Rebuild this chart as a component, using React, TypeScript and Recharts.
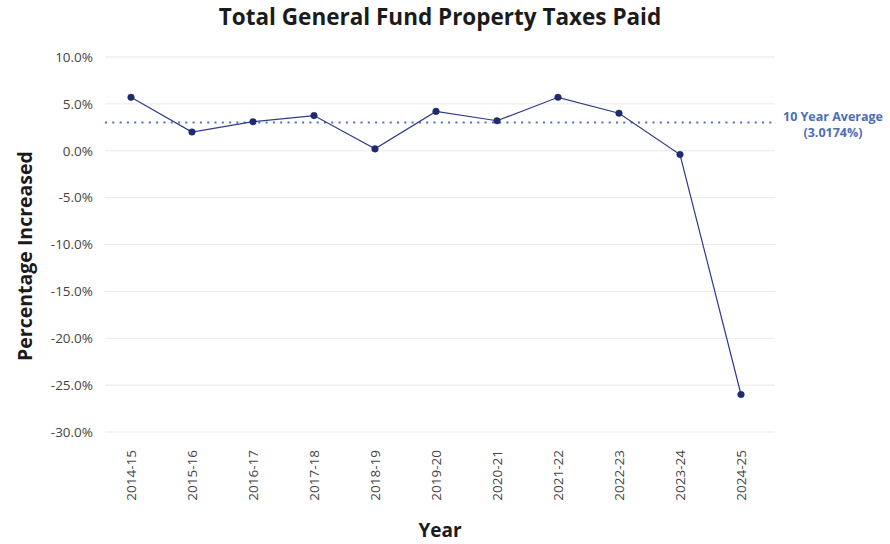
import { LineChart, Line, XAxis, YAxis, CartesianGrid, ReferenceLine, Label } from 'recharts';

const years = ['2014-15', '2015-16', '2016-17', '2017-18', '2018-19', '2019-20', '2020-21', '2021-22', '2022-23', '2023-24', '2024-25'];
const pctIncrease = [5.7, 2.0, 3.1, 3.75, 0.2, 4.2, 3.2, 5.7, 4.0, -0.4, -26.0];
const yTicks = [10, 5, 0, -5, -10, -15, -20, -25, -30];
const tenYearAvg = 3.0174;

const data = years.map((y, i) => ({ year: y, pct: pctIncrease[i] }));

const FONT = "'Open Sans', sans-serif";

// rotated year labels under each point
const YearTick = (props: any) => {
  const { x, y, payload } = props;
  return (
    <text
      x={x}
      y={y}
      dy="0.35em"
      transform={`rotate(-90, ${x}, ${y})`}
      textAnchor="end"
      fill="#444"
      fontSize={13.5}
      fontFamily={FONT}
    >
      {payload.value}
    </text>
  );
};

const AvgLabel = (props: any) => {
  const { viewBox } = props;
  const cx = viewBox.x + viewBox.width + 58;
  return (
    <g fill="#4a6fb5" fontFamily={FONT} fontWeight={700} fontSize={12.5} textAnchor="middle">
      <text x={cx} y={viewBox.y - 1}>10 Year Average</text>
      <text x={cx} y={viewBox.y + 15}>({tenYearAvg}%)</text>
    </g>
  );
};

export default function App() {
  return (
    <div style={{ position: 'absolute', left: 0, top: 0, width: 890, height: 544, background: '#fff' }}>
      <div
        style={{
          position: 'absolute',
          top: 1,
          left: 0,
          width: 880,
          textAlign: 'center',
          fontFamily: FONT,
          fontWeight: 700,
          fontSize: 22.5,
          color: '#1b1b1b',
        }}
      >
        Total General Fund Property Taxes Paid
      </div>
      <LineChart width={890} height={544} data={data} margin={{ top: 57, right: 115, bottom: 37, left: 0 }}>
        <CartesianGrid vertical={false} stroke="#e9e9e9" />
        <XAxis
          dataKey="year"
          axisLine={false}
          tickLine={false}
          interval={0}
          height={75}
          padding={{ left: 26, right: 34 }}
          tick={<YearTick />}
          tickMargin={12}
        >
          <Label
            content={() => (
              <text x={440} y={537} textAnchor="middle" fontFamily={FONT} fontWeight={700} fontSize={19} fill="#1b1b1b">
                Year
              </text>
            )}
          />
        </XAxis>
        <YAxis
          type="number"
          domain={[-30, 10]}
          ticks={yTicks}
          width={105}
          axisLine={false}
          tickLine={false}
          tickMargin={6}
          tickFormatter={(v: number) => `${v.toFixed(1)}%`}
          tick={{ fill: '#444', fontSize: 13.5, fontFamily: FONT }}
        >
          <Label
            content={() => (
              <text
                x={25}
                y={256}
                transform="rotate(-90, 25, 256)"
                dy="0.35em"
                textAnchor="middle"
                fontFamily={FONT}
                fontWeight={700}
                fontSize={19.5}
                fill="#1b1b1b"
              >
                Percentage Increased
              </text>
            )}
          />
        </YAxis>
        <ReferenceLine
          y={tenYearAvg}
          stroke="#4a72c4"
          strokeWidth={2}
          strokeDasharray="2 5.3"
          label={<AvgLabel />}
        />
        <Line
          type="linear"
          dataKey="pct"
          stroke="#2f3a8a"
          strokeWidth={1.2}
          dot={{ r: 3.3, fill: '#1f2a70', stroke: '#1f2a70', strokeWidth: 0.5 }}
          isAnimationActive={false}
        />
      </LineChart>
    </div>
  );
}
